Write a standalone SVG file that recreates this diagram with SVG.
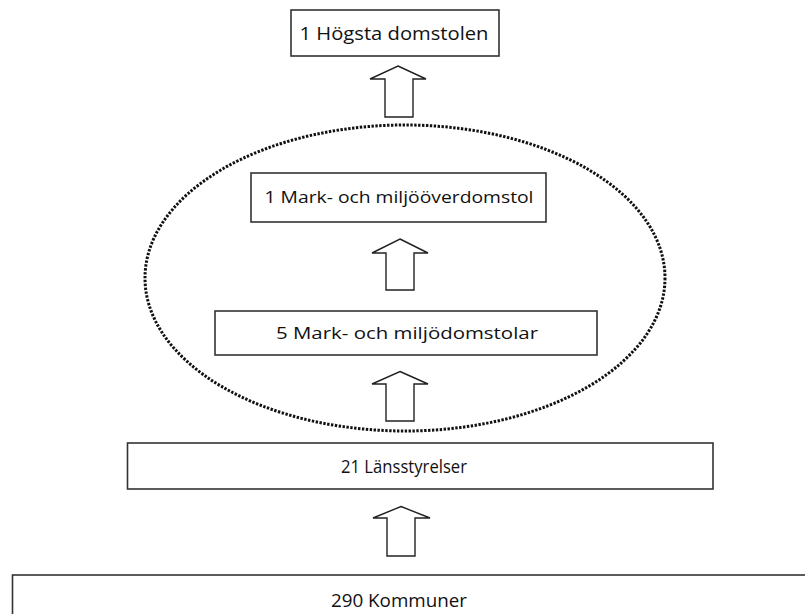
<svg xmlns="http://www.w3.org/2000/svg" width="805" height="614" viewBox="0 0 805 614">
<style>
.box{fill:#fff;stroke:#333;stroke-width:1.6}
.arr{fill:#fff;stroke:#222;stroke-width:1.4;stroke-linejoin:miter}
.t{font-family:"Open Sans","Liberation Sans",sans-serif;fill:#111;text-anchor:middle}
.n{font-family:"Open Sans","Liberation Sans",sans-serif;fill:#111;text-anchor:middle;font-size:19px}
.ell{fill:none;stroke:#111;stroke-width:3;stroke-dasharray:2.4 1.5}
</style>
<rect width="805" height="614" fill="#fff"/>
<ellipse class="ell" cx="405" cy="278" rx="260" ry="153"/>
<g id="connectors">
<polygon class="arr" points="398,66 426,79 413,79 413,117 385,117 385,79 370,79"/>
<polygon class="arr" points="400,239 428,253 414,253 414,290 386,290 386,253 372,253"/>
<polygon class="arr" points="400,371.5 428,384 414,384 414,421 386,421 386,384 372,384"/>
<polygon class="arr" points="401,506.5 430,518 415,518 415,556 387,556 387,518 373,518"/>
</g>
<g id="n1">
<rect class="box" x="291" y="10" width="208" height="46"/>
<text class="t" x="394" y="40" font-size="18" textLength="189" lengthAdjust="spacingAndGlyphs">1 Högsta domstolen</text>
</g>
<g id="n2">
<rect class="box" x="251" y="173" width="295" height="49"/>
<text class="t" x="399" y="203" font-size="16.5" textLength="269" lengthAdjust="spacingAndGlyphs">1 Mark- och miljööverdomstol</text>
</g>
<g id="n3">
<rect class="box" x="215" y="311" width="382" height="44"/>
<text class="t" x="407" y="339" font-size="16.5" textLength="262" lengthAdjust="spacingAndGlyphs">5 Mark- och miljödomstolar</text>
</g>
<g id="n4">
<rect class="box" x="127.5" y="443" width="585.5" height="46"/>
<text class="n" x="404" y="473" textLength="126" lengthAdjust="spacingAndGlyphs">21 Länsstyrelser</text>
</g>
<g id="n5">
<rect class="box" x="12.5" y="575" width="800" height="60"/>
<text class="n" x="399" y="607" textLength="136" lengthAdjust="spacingAndGlyphs">290 Kommuner</text>
</g>
</svg>
